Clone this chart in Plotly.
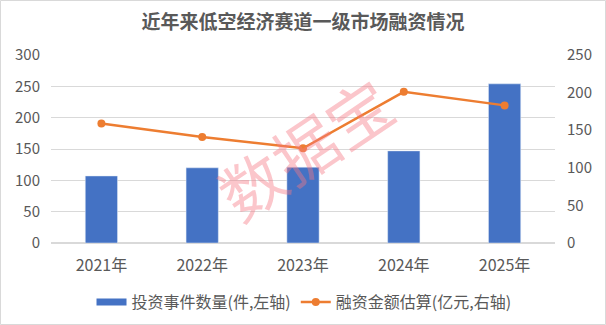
import plotly.graph_objects as go

years = ["2021年", "2022年", "2023年", "2024年", "2025年"]
deal_counts = [107, 120, 121, 147, 254]
amounts = [159, 141, 126, 201, 183]
left_ticks = [0, 50, 100, 150, 200, 250, 300]
right_ticks = [0, 50, 100, 150, 200, 250]

FONT = "Microsoft YaHei, Noto Sans CJK SC, sans-serif"
GRAY = "#595959"
BLUE = "#4472C4"
ORANGE = "#ED7D31"

fig = go.Figure()
fig.add_trace(go.Bar(
    x=years, y=deal_counts, name="投资事件数量(件,左轴)",
    marker_color=BLUE, yaxis="y", showlegend=False,
))
# legend-only entry drawn as a wide flat bar swatch
fig.add_trace(go.Scatter(
    x=[None], y=[None], name="投资事件数量(件,左轴)", mode="lines",
    line=dict(color=BLUE, width=7), showlegend=True,
))
fig.add_trace(go.Scatter(
    x=years, y=amounts, name="融资金额估算(亿元,右轴)",
    mode="lines+markers", line=dict(color=ORANGE, width=2.5),
    marker=dict(size=8, color=ORANGE), yaxis="y2",
))

W, H = 606, 325
L, R, T, B = 51, 51, 55, 82
pw, ph = W - L - R, H - T - B

def px_x(v):
    return (v - L) / pw

def px_y(v):
    return (H - B - v) / ph

fig.update_layout(
    width=W, height=H,
    margin=dict(l=L, r=R, t=T, b=B, autoexpand=False),
    paper_bgcolor="white", plot_bgcolor="white",
    font=dict(family=FONT, color=GRAY, size=15),
    title=dict(text="<b>近年来低空经济赛道一级市场融资情况</b>", x=0.5, xanchor="center",
               y=1 - 22 / H, yanchor="middle", font=dict(size=19, color=GRAY, family=FONT)),
    bargap=0.68,
    showlegend=True,
    legend=dict(orientation="h", x=0.502, xanchor="center", yref="container",
                y=(H - 302) / H, yanchor="middle",
                font=dict(size=16, color=GRAY, family=FONT),
                tracegroupgap=0, traceorder="normal"),
    xaxis=dict(showgrid=False, showline=False, ticks="", tickfont=dict(size=16, color=GRAY),
               ticklabelstandoff=11),
    yaxis=dict(range=[0, 300], tickvals=left_ticks, showgrid=True, gridcolor="#d9d9d9",
               gridwidth=1, zeroline=True, zerolinecolor="#d9d9d9", showline=False,
               tickfont=dict(size=15, color=GRAY), ticklabelstandoff=10),
    yaxis2=dict(range=[0, 250], tickvals=right_ticks, overlaying="y", side="right",
                showgrid=False, zeroline=False, showline=False,
                tickfont=dict(size=15, color=GRAY), ticklabelstandoff=11),
    shapes=[dict(type="rect", xref="paper", yref="paper",
                 x0=px_x(0.5), x1=px_x(W - 0.5), y0=px_y(H - 0.5), y1=px_y(0.5),
                 line=dict(color="#d9d9d9", width=1), fillcolor="rgba(0,0,0,0)", layer="below")],
    annotations=[dict(text="数据宝", xref="paper", yref="paper", x=px_x(304), y=px_y(147),
                      showarrow=False, textangle=-34,
                      font=dict(size=64, color="rgba(245,120,130,0.42)", family=FONT))],
)

fig.write_html("out.html")
